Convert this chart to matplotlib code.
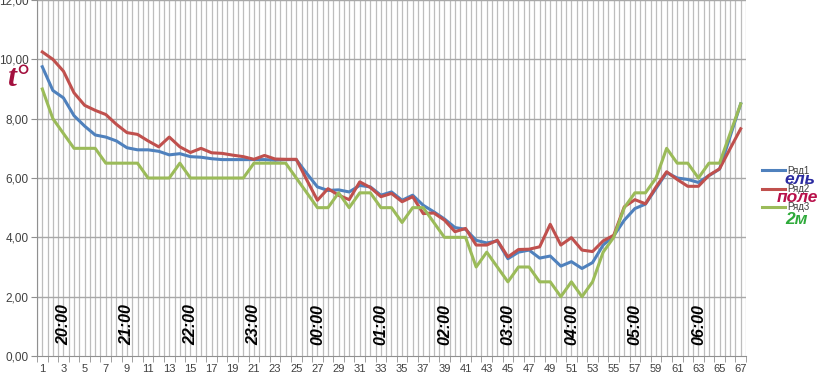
import matplotlib
matplotlib.use("Agg")
import matplotlib.pyplot as plt
import numpy as np

plt.rcParams['font.family'] = ['Liberation Sans', 'DejaVu Sans']

categories = list(range(1, 68))
yel = [9.75, 8.95, 8.7, 8.1, 7.75, 7.45, 7.38, 7.25, 7.02, 6.95,
       6.95, 6.9, 6.78, 6.82, 6.72, 6.7, 6.65, 6.62, 6.62, 6.62,
       6.62, 6.62, 6.6, 6.62, 6.62, 6.15, 5.7, 5.58, 5.6, 5.53,
       5.75, 5.7, 5.42, 5.53, 5.25, 5.42, 5.08, 4.86, 4.62, 4.33,
       4.27, 3.9, 3.81, 3.88, 3.28, 3.5, 3.57, 3.3, 3.37, 3.03,
       3.18, 2.95, 3.15, 3.74, 4.05, 4.58, 4.97, 5.12, 5.65, 6.18,
       6.0, 5.95, 5.85, 6.08, 6.3, 7.4, 8.5]
pole = [10.25, 10.0, 9.6, 8.87, 8.45, 8.28, 8.14, 7.81, 7.53, 7.47,
        7.25, 7.05, 7.38, 7.05, 6.86, 7.0, 6.85, 6.83, 6.77, 6.72,
        6.63, 6.76, 6.64, 6.63, 6.63, 5.93, 5.25, 5.64, 5.42, 5.27,
        5.87, 5.68, 5.37, 5.48, 5.2, 5.37, 4.8, 4.82, 4.58, 4.19,
        4.3, 3.74, 3.74, 3.9, 3.34, 3.59, 3.6, 3.68, 4.44, 3.74,
        3.99, 3.57, 3.52, 3.88, 4.07, 5.03, 5.27, 5.13, 5.7, 6.21,
        5.95, 5.72, 5.72, 6.09, 6.31, 6.99, 7.66]
dva_m = [9.0, 8.0, 7.5, 7.0, 7.0, 7.0, 6.5, 6.5, 6.5, 6.5,
         6.0, 6.0, 6.0, 6.5, 6.0, 6.0, 6.0, 6.0, 6.0, 6.0,
         6.5, 6.5, 6.5, 6.5, 6.0, 5.5, 5.0, 5.0, 5.5, 5.0,
         5.5, 5.5, 5.0, 5.0, 4.5, 5.0, 5.0, 4.5, 4.0, 4.0,
         4.0, 3.0, 3.5, 3.0, 2.5, 3.0, 3.0, 2.5, 2.5, 2.0,
         2.5, 2.0, 2.5, 3.5, 4.0, 5.0, 5.5, 5.5, 6.0, 7.0,
         6.5, 6.5, 6.0, 6.5, 6.5, 7.5, 8.5]
series_names = ["Ряд1", "Ряд2", "Ряд3"]
series_colors = ["#4F81BD", "#C0504D", "#9BBB59"]
time_labels = ["20:00", "21:00", "22:00", "23:00", "00:00", "01:00",
               "02:00", "03:00", "04:00", "05:00", "06:00"]
time_positions = [3, 9, 15, 21, 27, 33, 39, 45, 51, 57, 63]
y_ticks = [0, 2, 4, 6, 8, 10, 12]

fig = plt.figure(figsize=(8.2, 3.8), dpi=100)
ax = fig.add_axes([37/820, 1-356/380, (746-37)/820, 356/380])

# vertical grid every half category
for xv in np.arange(0.5, 67.51, 0.5):
    ax.axvline(xv, color="#bdbdbd", lw=0.9, zorder=0)
for yv in y_ticks[1:]:
    ax.axhline(yv, color="#a8a8a8", lw=1.0, zorder=0.5)

for data, name, col in zip([yel, pole, dva_m], series_names, series_colors):
    ax.plot(categories, data, color=col, lw=2.2, label=name, zorder=3,
            solid_joinstyle='round')

ax.set_xlim(0.5, 67.5)
ax.set_ylim(0, 12)
ax.set_yticks(y_ticks)
ax.set_yticklabels([f"{v:.2f}".replace('.', ',') for v in y_ticks],
                   fontsize=8.5, color="#404040")
ax.set_xticks(categories[::2])
ax.set_xticklabels([str(c) for c in categories[::2]], fontsize=8, color="#404040")
ax.set_xticks(np.arange(0.5, 67.6, 1), minor=True)
ax.tick_params(axis='x', which='major', length=0, pad=6)
ax.tick_params(axis='x', which='minor', length=4, color="#909090")
ax.tick_params(axis='y', length=4, color="#909090", pad=2)
for s in ["top", "right"]:
    ax.spines[s].set_visible(False)
for s in ["left", "bottom"]:
    ax.spines[s].set_color("#909090")

for lbl, pos in zip(time_labels, time_positions):
    ax.text(pos, 1.05, lbl, rotation=90, ha='center', va='center',
            fontsize=11.5, fontweight='bold', fontstyle='italic', color='black', zorder=4)

fig.text(7/820, 1-79/380, "t°", fontsize=23, fontweight='bold', fontstyle='italic',
         family=['Liberation Serif', 'DejaVu Serif'], color="#A3103E", va='center', ha='left')

leg = ax.legend(loc='center left', bbox_to_anchor=(762/820, 1-189/380),
                bbox_transform=fig.transFigure, frameon=False, fontsize=7,
                handlelength=2.4, handletextpad=0.15, labelspacing=0.85,
                borderpad=0, borderaxespad=0)
for t in leg.get_texts():
    t.set_color("#404040")

fig.text(800/820, 1-179/380, "ель", fontsize=12.5, fontweight='bold', fontstyle='italic',
         color="#2B2BA0", ha='center', va='center')
fig.text(797/820, 1-198/380, "поле", fontsize=12.5, fontweight='bold', fontstyle='italic',
         color="#B8104A", ha='center', va='center')
fig.text(797/820, 1-220/380, "2м", fontsize=12.5, fontweight='bold', fontstyle='italic',
         color="#2EAA3A", ha='center', va='center')

fig.savefig("out.png", dpi=100, facecolor='white')
